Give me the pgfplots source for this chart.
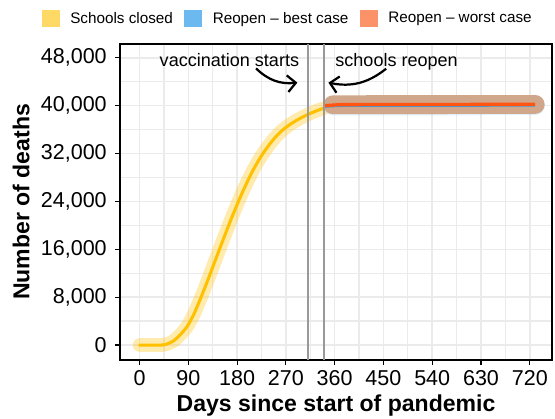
\documentclass[border=0pt]{standalone}
\usepackage{fontspec}
\setmainfont{Liberation Sans}
\usepackage{pgfplots}
\pgfplotsset{compat=1.18}
\usetikzlibrary{arrows.meta}
\definecolor{gridc}{HTML}{EBEBEB}
\definecolor{goldline}{HTML}{FFC000}
\definecolor{keyyellow}{HTML}{FFD966}
\definecolor{keyblue}{HTML}{6CB9F0}
\definecolor{keyorange}{HTML}{FC9368}
\definecolor{bandbrown}{HTML}{D1A78B}
\definecolor{orangeline}{HTML}{FF5510}
\definecolor{blueline}{HTML}{3C9BE0}
\definecolor{vgray}{HTML}{999999}
\pgfplotstableread{
day deaths
0 0
20 0
40 0
45 30
50 150
55 330
60 550
65 850
70 1250
75 1700
80 2200
85 2750
90 3400
100 5100
110 7200
120 9450
130 11800
140 14200
150 16600
160 18950
170 21250
180 23450
190 25550
200 27500
210 29300
220 30900
230 32300
240 33550
250 34650
260 35600
270 36350
280 37000
290 37550
300 38050
310 38500
320 38900
330 39250
340 39570
}\closedtable
\begin{document}
\begin{tikzpicture}
\useasboundingbox (-86.49pt,-42.52pt) rectangle (313.51pt,259.46pt);
\begin{axis}[
  scale only axis, width=311.35pt, height=227.75pt,
  at={(0pt,0pt)}, anchor=south west,
  xmin=-36, xmax=761, ymin=-2500, ymax=50300,
  xtick={0,90,...,720}, minor xtick={45,135,...,765},
  ytick={0,8000,...,48000}, minor ytick={4000,12000,...,52000},
  grid=both,
  major grid style={color=gridc, line width=1.1pt},
  minor grid style={color=gridc, line width=0.9pt},
  tick align=outside, tick pos=left,
  major tick length=3.5pt, minor tick length=0pt,
  tick style={black, line width=0.8pt},
  axis line style={black, line width=0.8pt},
  scaled y ticks=false,
  /pgf/number format/.cd, 1000 sep={,}, assume math mode=true,
  /pgfplots/.cd,
  ticklabel style={font=\fontsize{15.5}{18}\selectfont, text=black},
  xticklabel style={inner sep=0pt, anchor=north, yshift=-3.7pt},
  yticklabel style={inner sep=0pt, anchor=east, xshift=-5.9pt},
  xlabel={\bfseries Days since start of pandemic},
  ylabel={\bfseries Number of deaths},
  label style={font=\fontsize{16.6}{19}\selectfont},
  xlabel style={at={(axis description cs:0.5,-0.1636)}, anchor=base, inner sep=0pt},
  ylabel style={at={(axis description cs:-0.2100,0.5)}, anchor=base, inner sep=0pt, rotate=0},
  legend columns=3,
  legend image code/.code={\fill[#1] (0pt,-6.4pt) rectangle (12.8pt,6.4pt);},
  legend style={at={(0.3862,1.0804)}, anchor=center, draw=none, fill=none,
    inner sep=0pt, outer sep=0pt,
    font=\fontsize{11}{13}\selectfont,
    /tikz/every even column/.append style={column sep=8.3pt},
    /tikz/every odd column/.append style={column sep=7.6pt},
    nodes={inner xsep=0pt}},
  legend cell align=left,
]
\addlegendimage{fill=keyyellow, draw=none}
\addlegendentry{Schools closed}
\addlegendimage{fill=keyblue, draw=none}
\addlegendentry{Reopen -- best case}
\addlegendimage{fill=keyorange, draw=none}
\addlegendentry{Reopen -- worst case}

% schools closed: uncertainty band (thick translucent line) and line
\addplot[forget plot, draw=goldline, draw opacity=0.32, line width=9.8pt, line cap=round, line join=round, smooth, tension=0.3] table[x=day, y=deaths] {\closedtable};
\addplot[forget plot, draw=goldline, line width=2.2pt, line cap=round, line join=round, smooth, tension=0.3] table[x=day, y=deaths] {\closedtable};
% reopen: bands
\addplot[forget plot, draw=keyblue, draw opacity=0.2, line width=14pt, line cap=round] coordinates {(357,39980) (730,40030)};
\addplot[forget plot, draw=bandbrown, line width=13.6pt, line cap=round] coordinates {(357,40150) (730,40200)};
% reopen: lines
\addplot[forget plot, draw=blueline, line width=2.2pt] coordinates {(340,39900) (370,40030) (730,40080)};
\addplot[forget plot, draw=orangeline, line width=2.4pt] coordinates {(340,39980) (370,40170) (730,40220)};
% event lines
\addplot[forget plot, draw=vgray, line width=1.5pt] coordinates {(310,-2500) (310,50300)};
\addplot[forget plot, draw=vgray, line width=1.5pt] coordinates {(340,-2500) (340,50300)};
% annotations
\node[anchor=base east, inner sep=0pt, font=\fontsize{13}{15}\selectfont] at (axis cs:294.9,46500) {vaccination starts};
\node[anchor=base west, inner sep=0pt, font=\fontsize{13}{15}\selectfont] at (axis cs:360.9,46500) {schools reopen};
\draw[line width=1.6pt, -{Straight Barb[length=6pt, width=12pt]}] (axis cs:215,46220) to[bend right=25] (axis cs:291.3,43840);
\draw[line width=1.6pt, -{Straight Barb[length=6pt, width=12pt]}] (axis cs:455,46170) to[bend left=25] (axis cs:348.5,43840);
\end{axis}
\end{tikzpicture}
\end{document}
